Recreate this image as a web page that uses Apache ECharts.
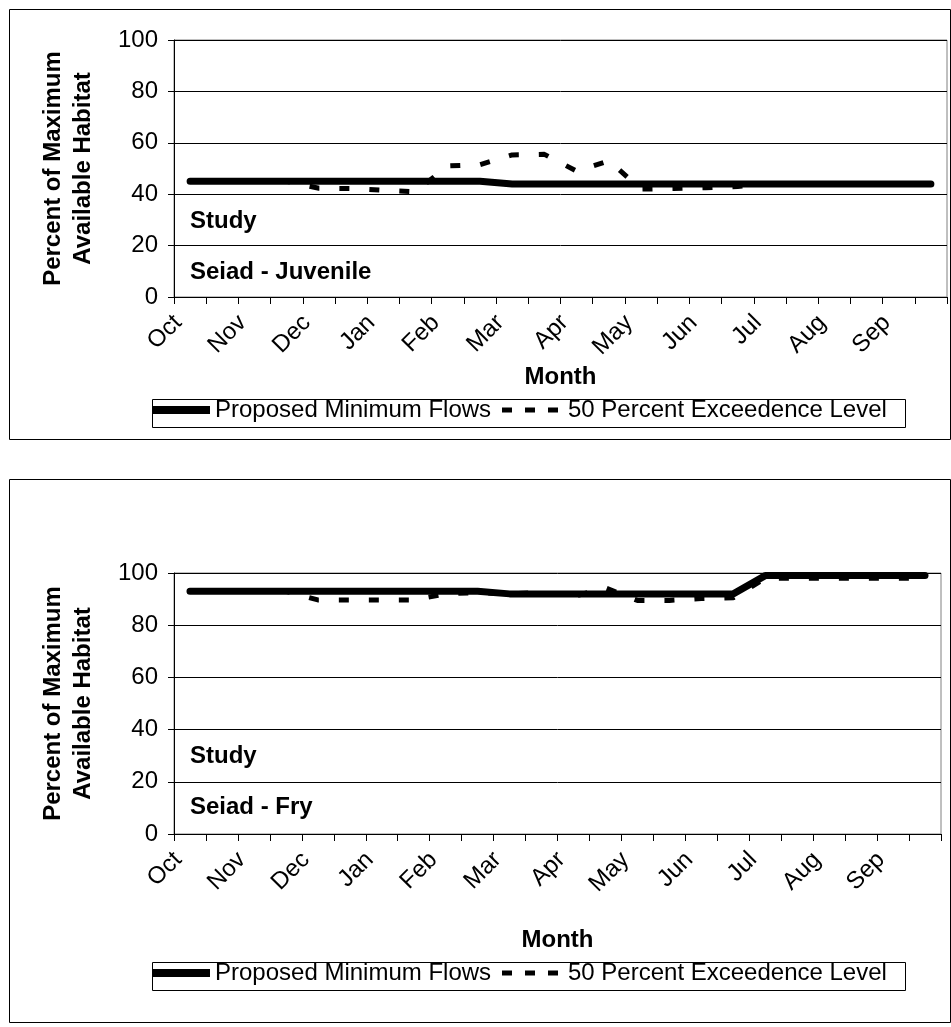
<!DOCTYPE html>
<html>
<head>
<meta charset="utf-8">
<script src="https://cdn.jsdelivr.net/npm/echarts@6/dist/echarts.min.js"></script>
<style>
  html, body { margin: 0; padding: 0; background: #fff; }
  #chart { width: 951px; height: 1027px; }
</style>
</head>
<body>
<div id="chart"></div>
<script>
  // month labels, two steps per month
  const months = ['Oct', 'Nov', 'Dec', 'Jan', 'Feb', 'Mar', 'Apr', 'May', 'Jun', 'Jul', 'Aug', 'Sep'];
  const periods = [];
  months.forEach(m => { periods.push(m); periods.push(m + ' (2)'); });

  // Seiad - Juvenile
  const juvMinFlows = [45, 45, 45, 45, 45, 45, 45, 45, 45, 45, 44, 44, 44, 44, 44, 44, 44, 44, 44, 44, 44, 44, 44, 44];
  const juvExceed = [45, 45, 45, 45, 42.3, 42.2, 41.5, 41, 51, 51.5, 55.3, 55.5, 49, 53, 42, 42.2, 42.5, 43, 44, 44, 44, 44, 44, 44];
  // Seiad - Fry
  const fryMinFlows = [93, 93, 93, 93, 93, 93, 93, 93, 93, 93, 92, 92, 92, 92, 92, 92, 92, 92, 99, 99, 99, 99, 99, 99];
  const fryExceed = [93, 93, 93, 93, 89.7, 89.7, 89.7, 89.7, 92, 92.5, 92, 92.5, 91, 94.3, 89.5, 89.5, 90.2, 90.5, 98, 98, 98, 98, 98, 98];

  const yTicks = [0, 20, 40, 60, 80, 100];
  const seriesNames = ['Proposed Minimum Flows', '50 Percent Exceedence Level'];

  const FONT = 'Liberation Sans, Arial, sans-serif';

  let myChart = echarts.init(document.getElementById('chart'));

  function xAxis(gridIndex, nameGap) {
    return {
      type: 'category',
      gridIndex: gridIndex,
      data: periods,
      boundaryGap: true,
      name: 'Month',
      nameLocation: 'middle',
      nameGap: nameGap,
      nameTextStyle: { color: '#000', fontFamily: FONT, fontSize: 24, fontWeight: 'bold' },
      axisLine: { lineStyle: { color: '#000', width: 1 } },
      axisTick: { show: true, interval: 0, length: 7, lineStyle: { color: '#000' } },
      axisLabel: {
        interval: 1,
        rotate: 45,
        margin: 10,
        padding: [0, 17, 0, 0],
        color: '#000',
        fontFamily: FONT,
        fontSize: 24,
        formatter: v => v.split(' ')[0]
      },
      splitLine: { show: false }
    };
  }

  function yAxis(gridIndex) {
    return {
      type: 'value',
      gridIndex: gridIndex,
      min: yTicks[0],
      max: yTicks[yTicks.length - 1],
      interval: 20,
      name: 'Percent of Maximum\nAvailable Habitat',
      nameLocation: 'middle',
      nameRotate: 90,
      nameGap: 76,
      nameTextStyle: { color: '#000', fontFamily: FONT, fontSize: 24, fontWeight: 'bold', lineHeight: 30 },
      axisLine: { show: true, lineStyle: { color: '#000', width: 1 } },
      axisTick: { show: true, inside: false, length: 6, lineStyle: { color: '#000' } },
      axisLabel: { color: '#000', fontFamily: FONT, fontSize: 24, margin: 16 },
      splitLine: { show: true, lineStyle: { color: '#000', width: 1 } }
    };
  }

  function lines(idx, solid, dashed) {
    return [
      {
        name: seriesNames[0],
        type: 'line',
        xAxisIndex: idx,
        yAxisIndex: idx,
        data: solid,
        symbol: 'none',
        z: 3,
        lineStyle: { color: '#000', width: 7, cap: 'round', join: 'round' },
        itemStyle: { color: '#000' }
      },
      {
        name: seriesNames[1],
        type: 'line',
        xAxisIndex: idx,
        yAxisIndex: idx,
        data: dashed,
        symbol: 'none',
        z: 2,
        lineStyle: { color: '#000', width: 5, type: [10, 20], cap: 'butt' },
        itemStyle: { color: '#000' }
      }
    ];
  }

  // one legend per entry so each key can have its own icon size
  function legends(top) {
    const text = { color: '#000', fontFamily: FONT, fontSize: 24 };
    return [
      {
        left: 152, top: top, padding: 0, itemGap: 0,
        itemWidth: 58, itemHeight: 8,
        data: [{ name: seriesNames[0], icon: 'path://M0,0H58V8H0Z' }],
        textStyle: text
      },
      {
        left: 502, top: top, padding: 0, itemGap: 0,
        itemWidth: 56, itemHeight: 5,
        data: [{ name: seriesNames[1], icon: 'path://M0,0H10V5H0ZM23,0H33V5H23ZM46,0H56V5H46Z' }],
        textStyle: Object.assign({ padding: [0, 0, 0, 5] }, text)
      }
    ];
  }

  function label(text, left, top) {
    return {
      type: 'text',
      left: left,
      top: top,
      z: 10,
      style: { text: text, fill: '#000', font: 'bold 24px ' + FONT }
    };
  }

  function box(left, top, width, height) {
    return {
      type: 'rect', left: left, top: top, z: -1,
      shape: { width: width, height: height },
      style: { fill: 'none', stroke: '#000', lineWidth: 1 }
    };
  }

  let options = {
    backgroundColor: '#fff',
    animation: false,
    grid: [
      { left: 174, top: 40, width: 773, height: 257, show: true, borderColor: '#808080', borderWidth: 1 },
      { left: 174, top: 573, width: 767, height: 261, show: true, borderColor: '#808080', borderWidth: 1 }
    ],
    xAxis: [xAxis(0, 68), xAxis(1, 94)],
    yAxis: [yAxis(0), yAxis(1)],
    legend: legends(398).concat(legends(961)),
    series: lines(0, juvMinFlows, juvExceed).concat(lines(1, fryMinFlows, fryExceed)),
    graphic: [
      box(7, 7, 941, 430),
      box(7, 477, 941, 543),
      box(150, 397, 753, 28),
      box(150, 960, 753, 28),
      label('Study', 190, 209),
      label('Seiad - Juvenile', 190, 260),
      label('Study', 190, 744),
      label('Seiad - Fry', 190, 795)
    ]
  };

  myChart.setOption(options);
</script>
</body>
</html>
